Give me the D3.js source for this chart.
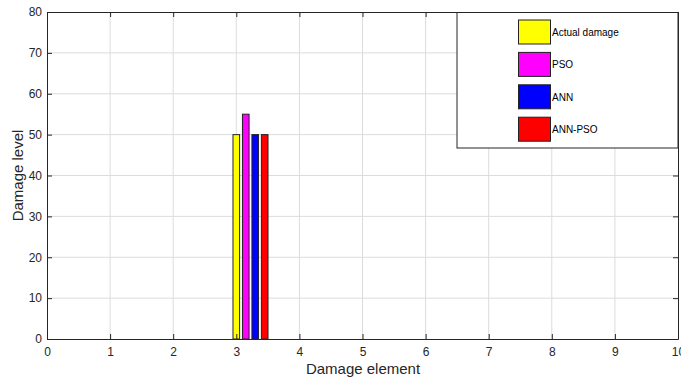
<!DOCTYPE html>
<html><head><meta charset="utf-8">
<script src="https://cdn.jsdelivr.net/npm/d3@7"></script>
<style>body{margin:0;background:#fff;} text{font-family:"Liberation Sans",Arial,sans-serif;}</style>
</head><body><svg id="c" width="681" height="380"></svg>
<script>
const categories = [3];
const seriesNames = ["Actual damage","PSO","ANN","ANN-PSO"];
const seriesColors = ["#ffff00","#ff00ff","#0000ff","#ff0000"];
const seriesValues = [[50],[55],[50],[50]];
const xTicks = [0,1,2,3,4,5,6,7,8,9,10];
const yTicks = [0,10,20,30,40,50,60,70,80];

const svg = d3.select("#c");
const m = {l:47, r:678, t:12, b:339};
const x = d3.scaleLinear().domain([0,10]).range([m.l, m.r]);
const y = d3.scaleLinear().domain([0,80]).range([m.b, m.t]);

// grid
svg.append("g").selectAll("line.gx").data(xTicks.slice(1,-1)).join("line")
  .attr("x1",d=>x(d)).attr("x2",d=>x(d)).attr("y1",m.t).attr("y2",m.b)
  .attr("stroke","#dcdcdc").attr("stroke-width",1);
svg.append("g").selectAll("line.gy").data(yTicks.slice(1,-1)).join("line")
  .attr("x1",m.l).attr("x2",m.r).attr("y1",d=>y(d)).attr("y2",d=>y(d))
  .attr("stroke","#dcdcdc").attr("stroke-width",1);

// bars
const offsets = [0,0.15,0.30,0.45];
const bw = 0.105;
seriesValues.forEach((vals,i)=>{
  svg.append("g").selectAll("rect").data(categories).join("rect")
    .attr("x",(d,j)=>x(d+offsets[i]-bw/2))
    .attr("width",x(bw)-x(0))
    .attr("y",(d,j)=>y(vals[j]))
    .attr("height",(d,j)=>y(0)-y(vals[j]))
    .attr("fill",seriesColors[i]).attr("stroke","#222").attr("stroke-width",1);
});

// axes
svg.append("g").attr("transform",`translate(0,${m.b})`)
  .call(d3.axisBottom(x).tickValues(xTicks).tickSizeInner(-5).tickSizeOuter(0).tickPadding(8));
svg.append("g").attr("transform",`translate(${m.l},0)`)
  .call(d3.axisLeft(y).tickValues(yTicks).tickSizeInner(-5).tickSizeOuter(0).tickPadding(5));
svg.append("g").attr("transform",`translate(0,${m.t})`)
  .call(d3.axisTop(x).tickValues(xTicks).tickSizeInner(-5).tickSizeOuter(0).tickFormat(""));
svg.append("g").attr("transform",`translate(${m.r},0)`)
  .call(d3.axisRight(y).tickValues(yTicks).tickSizeInner(-5).tickSizeOuter(0).tickFormat(""));
svg.selectAll(".domain").attr("stroke","#262626");
svg.selectAll(".tick line").attr("stroke","#262626");
svg.selectAll(".tick text").attr("font-size","12px").attr("fill","#262626");

svg.append("text").attr("x",363).attr("y",374).attr("text-anchor","middle")
  .attr("font-size","15px").attr("fill","#262626").text("Damage element");
svg.append("text").attr("transform",`translate(23,${(m.t+m.b)/2}) rotate(-90)`).attr("text-anchor","middle")
  .attr("font-size","15px").attr("fill","#262626").text("Damage level");

// legend
const lg = svg.append("g");
lg.append("rect").attr("x",457).attr("y",12.5).attr("width",221).attr("height",135.5)
  .attr("fill","#fff").attr("stroke","#262626").attr("stroke-width",1);
seriesNames.forEach((n,i)=>{
  const yy = 20 + i*32.4;
  lg.append("rect").attr("x",518.5).attr("y",yy).attr("width",32).attr("height",24)
    .attr("fill",seriesColors[i]).attr("stroke","#222").attr("stroke-width",1);
  lg.append("text").attr("x",552).attr("y",yy+16).attr("font-size","10px").attr("fill","#000").text(n);
});
</script></body></html>
